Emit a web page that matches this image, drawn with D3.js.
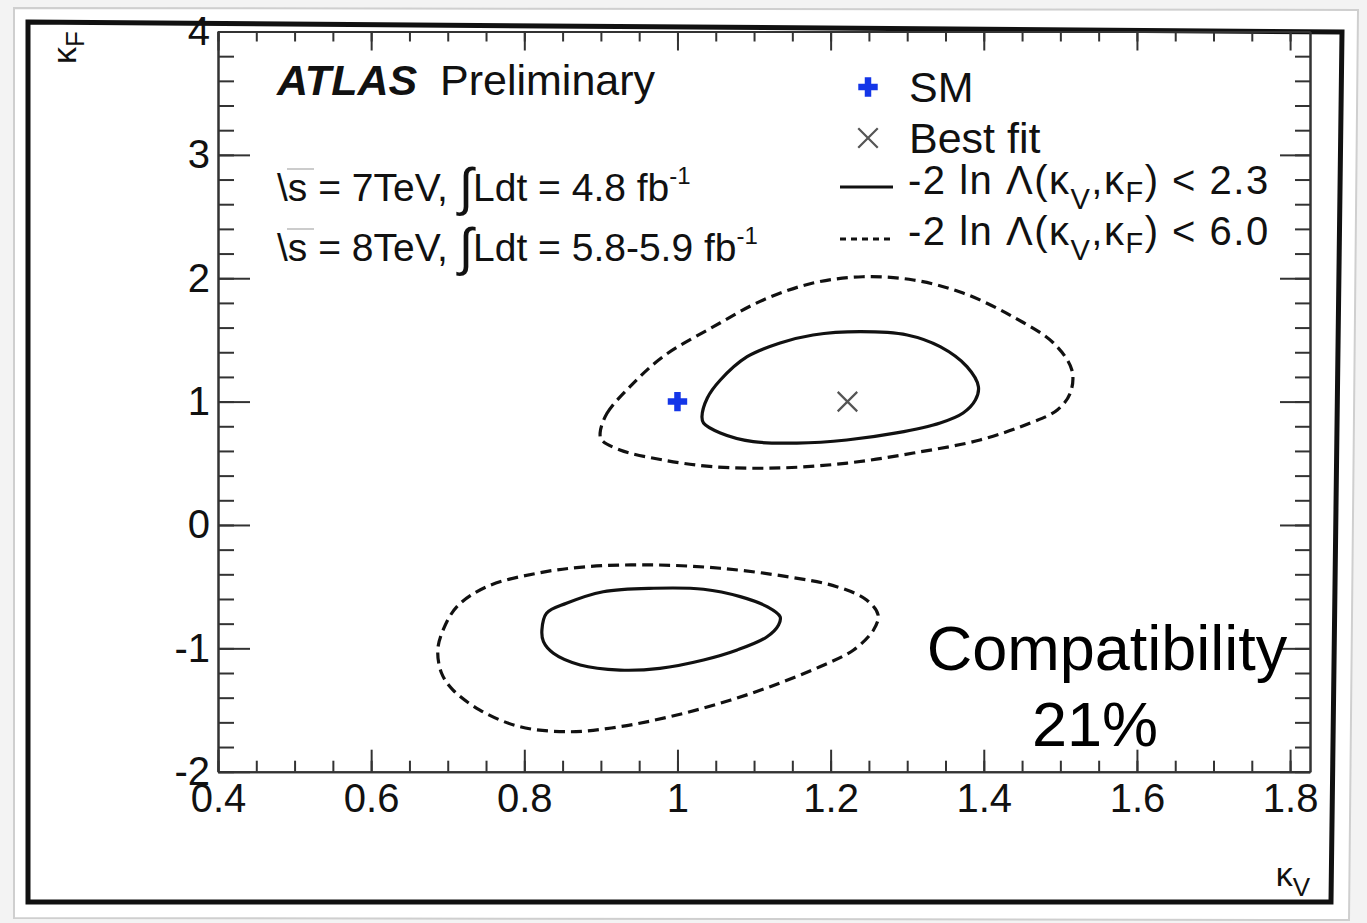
<!DOCTYPE html>
<html>
<head>
<meta charset="utf-8">
<script src="https://cdn.jsdelivr.net/npm/d3@7"></script>
<style>
  body { margin: 0; background: #f3f3f3; }
  svg { display: block; font-family: "Liberation Sans", Arial, Helvetica, sans-serif; }
</style>
</head>
<body>
<div id="chart"></div>
<script>
// axis ticks
const xMajor = [0.4, 0.6, 0.8, 1.0, 1.2, 1.4, 1.6, 1.8];
const xLabels = ["0.4", "0.6", "0.8", "1", "1.2", "1.4", "1.6", "1.8"];
const yMajor = [-2, -1, 0, 1, 2, 3, 4];
const yLabels = ["-2", "-1", "0", "1", "2", "3", "4"];

// reference points
const smPoint = [1.0, 1.0];
const bestFit = [1.222, 1.0];

// 68% CL contour (-2 ln L < 2.3), upper island  [kV, kF]
const c68Upper = [
  [1.032, 0.878], [1.039, 1.029], [1.056, 1.175], [1.091, 1.364], [1.134, 1.475],
  [1.177, 1.540], [1.239, 1.567], [1.300, 1.540], [1.343, 1.445], [1.378, 1.283],
  [1.393, 1.121], [1.389, 1.013], [1.373, 0.908], [1.343, 0.827], [1.286, 0.746],
  [1.221, 0.689], [1.156, 0.664], [1.099, 0.675], [1.056, 0.746], [1.034, 0.827]
];
// 95% CL contour (-2 ln L < 6.0), upper island
const c95Upper = [
  [0.899, 0.746], [0.908, 0.905], [0.938, 1.121], [0.981, 1.364], [1.047, 1.607],
  [1.112, 1.824], [1.177, 1.961], [1.242, 2.012], [1.308, 1.986], [1.373, 1.880],
  [1.438, 1.688], [1.491, 1.475], [1.515, 1.256], [1.513, 1.070], [1.496, 0.932],
  [1.461, 0.827], [1.395, 0.689], [1.308, 0.583], [1.222, 0.502], [1.134, 0.462],
  [1.047, 0.472], [0.981, 0.527], [0.925, 0.608], [0.901, 0.689]
];
// 68% CL contour, lower island
const c68Lower = [
  [0.823, -0.851], [0.829, -0.716], [0.855, -0.635], [0.903, -0.541], [0.969, -0.513],
  [1.034, -0.521], [1.082, -0.581], [1.117, -0.662], [1.134, -0.743], [1.132, -0.811],
  [1.117, -0.906], [1.078, -1.013], [1.034, -1.094], [0.977, -1.162], [0.925, -1.176],
  [0.873, -1.135], [0.838, -1.040], [0.825, -0.946]
];
// 95% CL contour, lower island
const c95Lower = [
  [0.687, -1.013], [0.694, -0.851], [0.712, -0.662], [0.751, -0.500], [0.816, -0.392],
  [0.882, -0.338], [0.969, -0.324], [1.056, -0.351], [1.143, -0.419], [1.208, -0.500],
  [1.247, -0.608], [1.262, -0.730], [1.256, -0.851], [1.230, -1.013], [1.186, -1.149],
  [1.121, -1.311], [1.056, -1.445], [0.990, -1.554], [0.925, -1.635], [0.860, -1.676],
  [0.794, -1.635], [0.742, -1.500], [0.707, -1.338], [0.692, -1.202]
];

const W = 1367, H = 923;
const frame = { left: 218, right: 1310, top: 31.5, bottom: 771.7 };

const svg = d3.select("#chart").append("svg")
  .attr("width", W)
  .attr("height", H);

// slide background and borders
svg.append("polygon")
  .attr("points", "14,8 1358,10 1349,920 14,918")
  .attr("fill", "#fff")
  .attr("stroke", "#cfcfcf")
  .attr("stroke-width", 2);

svg.append("polygon")
  .attr("points", "28,22 1342,32 1331,902 28,902")
  .attr("fill", "#fff")
  .attr("stroke", "#111")
  .attr("stroke-width", 5);

const x = d3.scaleLinear().domain([0.4, 1.826]).range([frame.left, frame.right]);
const y = d3.scaleLinear().domain([-2, 4]).range([frame.bottom, frame.top]);

const xMinor = d3.range(0.4, 1.826, 0.05);
const yMinor = d3.range(-2, 4.001, 0.2);

function styleAxis(g) {
  g.selectAll("path.domain").attr("stroke", "#333").attr("stroke-width", 2);
  g.selectAll(".tick line").attr("stroke", "#333").attr("stroke-width", 2);
}

// bottom axis
svg.append("g")
  .attr("transform", `translate(0,${frame.bottom})`)
  .call(d3.axisBottom(x).tickValues(xMinor).tickFormat("").tickSizeInner(-11).tickSizeOuter(0))
  .call(styleAxis);
svg.append("g")
  .attr("transform", `translate(0,${frame.bottom})`)
  .call(d3.axisBottom(x).tickValues(xMajor).tickFormat((d, i) => xLabels[i])
    .tickSizeInner(-22).tickSizeOuter(0).tickPadding(12))
  .call(styleAxis)
  .call(g => g.selectAll("text").attr("font-size", 40).attr("fill", "#111")
    .attr("font-family", "Liberation Sans, Arial, sans-serif"));

// top axis
svg.append("g")
  .attr("transform", `translate(0,${frame.top})`)
  .call(d3.axisTop(x).tickValues(xMinor).tickFormat("").tickSizeInner(-10).tickSizeOuter(0))
  .call(styleAxis);
svg.append("g")
  .attr("transform", `translate(0,${frame.top})`)
  .call(d3.axisTop(x).tickValues(xMajor).tickFormat("").tickSizeInner(-19).tickSizeOuter(0))
  .call(styleAxis);

// left axis
svg.append("g")
  .attr("transform", `translate(${frame.left},0)`)
  .call(d3.axisLeft(y).tickValues(yMinor).tickFormat("").tickSizeInner(-16).tickSizeOuter(0))
  .call(styleAxis);
svg.append("g")
  .attr("transform", `translate(${frame.left},0)`)
  .call(d3.axisLeft(y).tickValues(yMajor).tickFormat((d, i) => yLabels[i])
    .tickSizeInner(-32).tickSizeOuter(0).tickPadding(8))
  .call(styleAxis)
  .call(g => g.selectAll("text").attr("font-size", 40).attr("fill", "#111")
    .attr("font-family", "Liberation Sans, Arial, sans-serif"));

// right axis
svg.append("g")
  .attr("transform", `translate(${frame.right},0)`)
  .call(d3.axisRight(y).tickValues(yMinor).tickFormat("").tickSizeInner(-15).tickSizeOuter(0))
  .call(styleAxis);
svg.append("g")
  .attr("transform", `translate(${frame.right},0)`)
  .call(d3.axisRight(y).tickValues(yMajor).tickFormat("").tickSizeInner(-30).tickSizeOuter(0))
  .call(styleAxis);

// axis titles
svg.append("text")
  .attr("transform", `translate(${frame.right},886)`)
  .attr("text-anchor", "end")
  .attr("font-size", 34)
  .attr("fill", "#111")
  .html('κ<tspan font-size="26" dy="10">V</tspan>');

svg.append("text")
  .attr("transform", "translate(76,31) rotate(-90)")
  .attr("text-anchor", "end")
  .attr("font-size", 34)
  .attr("fill", "#111")
  .html('κ<tspan font-size="26" dy="8">F</tspan>');

// contours
const line = d3.line()
  .x(d => x(d[0]))
  .y(d => y(d[1]))
  .curve(d3.curveCatmullRomClosed.alpha(0.5));

const contours = [
  { pts: c95Upper, dash: "11,6" },
  { pts: c95Lower, dash: "11,6" },
  { pts: c68Upper, dash: null },
  { pts: c68Lower, dash: null }
];

svg.append("g").selectAll("path")
  .data(contours)
  .join("path")
  .attr("d", d => line(d.pts))
  .attr("fill", "none")
  .attr("stroke", "#111")
  .attr("stroke-width", 3.2)
  .attr("stroke-dasharray", d => d.dash);

// markers
const crossSym = d3.symbol(d3.symbolCross).size(210);
const timesSym = d3.symbol(d3.symbolTimes).size(250);

svg.append("path")
  .attr("d", crossSym())
  .attr("transform", `translate(${x(smPoint[0])},${y(smPoint[1])})`)
  .attr("fill", "#1436e8");

svg.append("path")
  .attr("d", timesSym())
  .attr("transform", `translate(${x(bestFit[0])},${y(bestFit[1])})`)
  .attr("fill", "none")
  .attr("stroke", "#555")
  .attr("stroke-width", 2.2);

// ATLAS label
svg.append("text")
  .attr("x", 277).attr("y", 95)
  .attr("font-size", 43)
  .attr("fill", "#111")
  .html('<tspan font-weight="bold" font-style="italic">ATLAS</tspan><tspan x="440">Preliminary</tspan>');

// energy / luminosity
const lumiLines = [
  { y: 201, pre: "s = 7TeV, ", post: "Ldt = 4.8 fb" },
  { y: 261, pre: "s = 8TeV, ", post: "Ldt = 5.8-5.9 fb" }
];
lumiLines.forEach(l => {
  const t = svg.append("text")
    .attr("x", 277).attr("y", l.y)
    .attr("font-size", 39)
    .attr("fill", "#111");
  t.append("tspan").text("\\");
  t.append("tspan").text(l.pre);
  t.append("tspan").attr("font-size", 52).attr("dy", 4).text("∫");
  t.append("tspan").attr("dy", -4).text(l.post);
  t.append("tspan").attr("font-size", 24).attr("dy", -17).text("-1");
  // radical bar
  svg.append("line")
    .attr("x1", 287).attr("x2", 314)
    .attr("y1", l.y - 32).attr("y2", l.y - 32)
    .attr("stroke", "#bbb").attr("stroke-width", 1.5);
});

// legend
const legend = svg.append("g").attr("fill", "#111");
legend.append("path")
  .attr("d", crossSym())
  .attr("transform", "translate(868,87)")
  .attr("fill", "#1436e8");
legend.append("text").attr("x", 909).attr("y", 102).attr("font-size", 43).text("SM");

legend.append("path")
  .attr("d", timesSym())
  .attr("transform", "translate(868,138)")
  .attr("fill", "none").attr("stroke", "#555").attr("stroke-width", 2.2);
legend.append("text").attr("x", 909).attr("y", 153).attr("font-size", 43).text("Best fit");

legend.append("line")
  .attr("x1", 840).attr("x2", 893).attr("y1", 187).attr("y2", 187)
  .attr("stroke", "#111").attr("stroke-width", 3);
legend.append("line")
  .attr("x1", 840).attr("x2", 893).attr("y1", 239).attr("y2", 239)
  .attr("stroke", "#111").attr("stroke-width", 3).attr("stroke-dasharray", "6,5");

const clLabels = [
  { y: 194, val: "2.3" },
  { y: 245, val: "6.0" }
];
clLabels.forEach(c => {
  legend.append("text")
    .attr("x", 908).attr("y", c.y)
    .attr("font-size", 40)
    .attr("letter-spacing", 1.5)
    .html(`-2 ln Λ(κ<tspan font-size="29" dy="15">V</tspan><tspan dy="-15">,κ</tspan><tspan font-size="29" dy="8">F</tspan><tspan dy="-8">) &lt; ${c.val}</tspan>`);
});

// compatibility note
svg.append("text")
  .attr("x", 1107).attr("y", 670)
  .attr("text-anchor", "middle")
  .attr("font-size", 63)
  .attr("fill", "#000")
  .text("Compatibility");
svg.append("text")
  .attr("x", 1095).attr("y", 746)
  .attr("text-anchor", "middle")
  .attr("font-size", 63)
  .attr("fill", "#000")
  .text("21%");
</script>
</body>
</html>
